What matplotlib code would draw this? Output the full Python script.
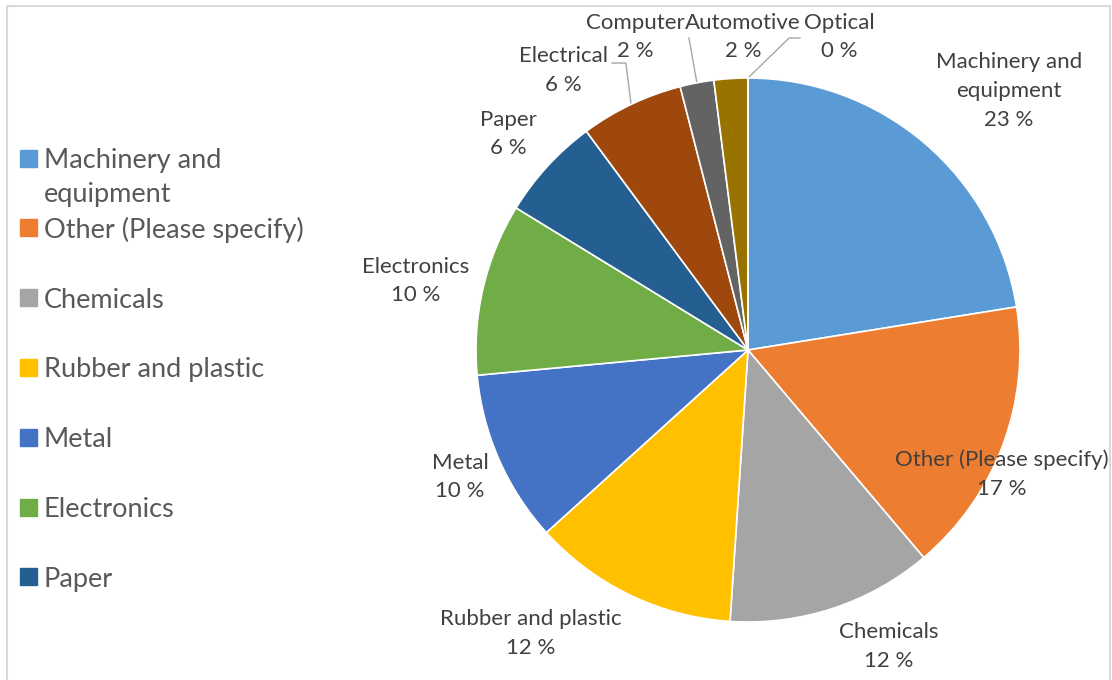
import numpy as np
import matplotlib.pyplot as plt
from matplotlib.patches import Rectangle
from matplotlib.lines import Line2D

# --- Data ---
categories = ["Machinery and\nequipment", "Other (Please specify)", "Chemicals",
              "Rubber and plastic", "Metal", "Electronics", "Paper",
              "Electrical", "Computer", "Automotive", "Optical"]
shares = [22.4, 16.3, 12.2, 12.2, 10.2, 10.2, 6.1, 6.1, 2.0, 2.0, 0.0]
pct_labels = ["23 %", "17 %", "12 %", "12 %", "10 %", "10 %", "6 %", "6 %",
              "2 %", "2 %", "0 %"]
legend_names = ["Machinery and\nequipment", "Other (Please specify)", "Chemicals",
                "Rubber and plastic", "Metal", "Electronics", "Paper"]

colors = ["#5B9BD5", "#ED7D31", "#A5A5A5", "#FFC000", "#4472C4", "#70AD47",
          "#255E91", "#9E480E", "#636363", "#997300", "#264478"]

W, H = 1112, 680
CX, CY, R = 748, 350, 272   # pie centre / radius in pixels

plt.rcParams['font.family'] = ['Lato', 'DejaVu Sans']

fig = plt.figure(figsize=(W / 100, H / 100), dpi=100)
ax = fig.add_axes([0, 0, 1, 1])

wedges, _ = ax.pie(shares, colors=colors, startangle=90, counterclock=False,
                   radius=1.0, wedgeprops=dict(edgecolor="white", linewidth=1.2))
ax.set_xlim(-CX / R, (W - CX) / R)
ax.set_ylim((CY - H) / R, CY / R)
ax.set_aspect("equal")
ax.axis("off")

# label block centres (pie units)
label_pos = [(0.96, 0.952), (0.934, -0.458), (0.518, -1.090), (-0.798, -1.042),
             (-1.059, -0.467), (-1.221, 0.254), (-0.882, 0.794), (-0.680, 1.028),
             (-0.415, 1.151), (-0.018, 1.151), (0.335, 1.151)]
for name, pct, (x, y) in zip(categories, pct_labels, label_pos):
    ax.text(x, y, f"{name}\n{pct}", ha="center", va="center", fontsize=16,
            color="#404040", linespacing=1.55)

# leader lines for the small slices
def arc_mid(i):
    w = wedges[i]
    a = np.deg2rad((w.theta1 + w.theta2) / 2)
    return np.cos(a), np.sin(a)

leaders = {7: [(-0.449, 1.055), (-0.500, 1.055)],
           8: [(-0.217, 1.147)],
           10: [(0.151, 1.147), (0.191, 1.147)]}
for i, pts in leaders.items():
    x0, y0 = arc_mid(i)
    xs = [x0] + [p[0] for p in pts]
    ys = [y0] + [p[1] for p in pts]
    ax.plot(xs, ys, color="#A6A6A6", lw=1.0, zorder=0)

# legend (truncated like the original)
for k, name in enumerate(legend_names):
    yc = 158 + 69.8 * k
    fig.patches.append(Rectangle((20 / W, 1 - (yc + 8.5) / H), 17 / W, 17 / H,
                                 transform=fig.transFigure, color=colors[k]))
    for j, line in enumerate(name.split("\n")):
        fig.text(44 / W, 1 - (yc + 34 * j) / H, line, ha="left", va="center_baseline",
                 fontsize=19.5, color="#595959")

# chart border (left, top, right)
fig.add_artist(Line2D([6.5 / W, 6.5 / W, 1109.5 / W, 1109.5 / W],
                      [0, 1 - 5.5 / H, 1 - 5.5 / H, 0], color="#D9D9D9", lw=1.5,
                      transform=fig.transFigure))

fig.savefig("out.png", dpi=100)
